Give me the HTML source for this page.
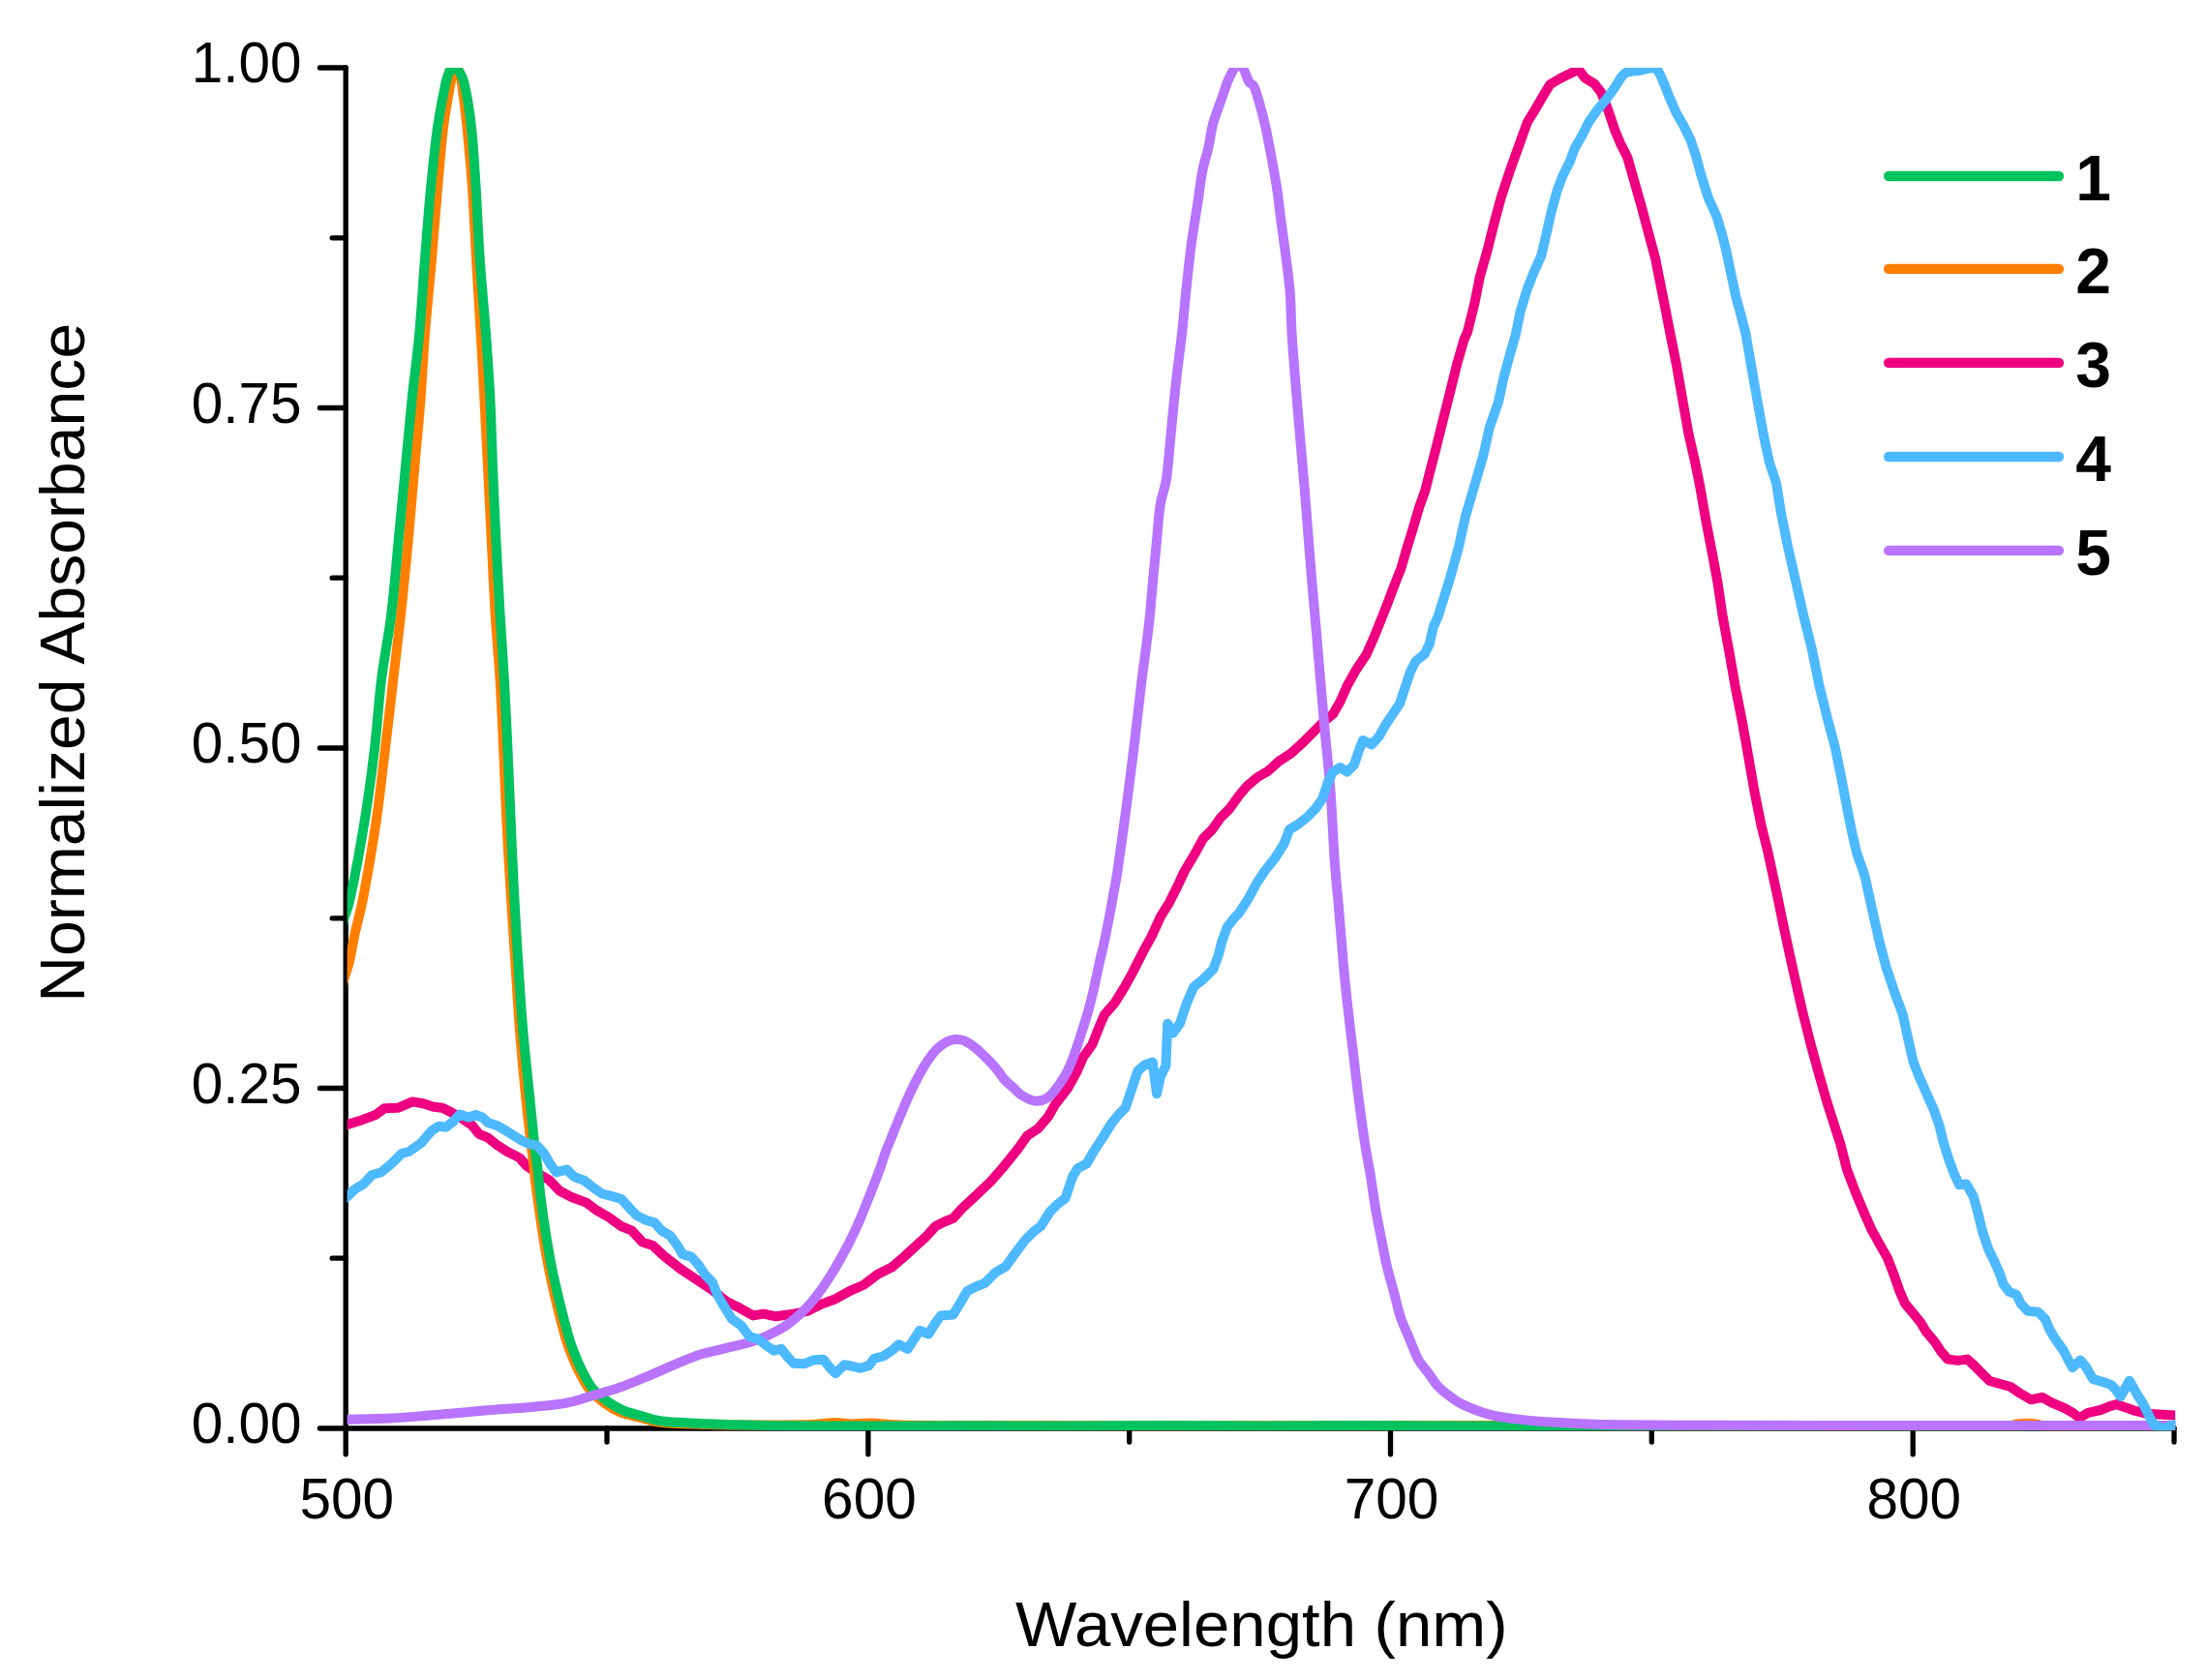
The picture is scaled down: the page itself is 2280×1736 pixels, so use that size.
<!DOCTYPE html>
<html lang="en"><head><meta charset="utf-8"><title>Normalized Absorbance</title>
<style>html,body{margin:0;padding:0;background:#fff}body{width:2280px;height:1736px;overflow:hidden}svg{display:block}text{font-family:"Liberation Sans",sans-serif;fill:#000}</style></head><body>
<svg width="2280" height="1736" viewBox="0 0 2280 1736">
<rect width="2280" height="1736" fill="#fff"/>
<defs><clipPath id="plot"><rect x="358.6" y="69.9" width="1888.6" height="1408.3"/></clipPath></defs>
<g stroke="#000" stroke-width="5.3" stroke-linecap="round" fill="none">
<path d="M357.2 70.0 V1502.8"/>
<path d="M330.4 1476.0 H2246.0"/>
<path d="M343.2 1300.2 H357.2"/>
<path d="M330.4 1124.5 H357.2"/>
<path d="M343.2 948.8 H357.2"/>
<path d="M330.4 773.0 H357.2"/>
<path d="M343.2 597.2 H357.2"/>
<path d="M330.4 421.5 H357.2"/>
<path d="M343.2 245.8 H357.2"/>
<path d="M330.4 70.0 H357.2"/>
<path d="M627.0 1476.0 V1490.0"/>
<path d="M896.9 1476.0 V1502.8"/>
<path d="M1166.7 1476.0 V1490.0"/>
<path d="M1436.5 1476.0 V1502.8"/>
<path d="M1706.3 1476.0 V1490.0"/>
<path d="M1976.2 1476.0 V1502.8"/>
<path d="M2246.0 1476.0 V1490.0"/>
</g>
<g clip-path="url(#plot)" fill="none" stroke-width="10" stroke-linejoin="round" stroke-linecap="butt">
<path stroke="#EE0080" d="M345.0 1166.0 L359.1 1162.0 L373.6 1157.4 L388.1 1152.0 L397.1 1145.3 L411.6 1144.7 L426.1 1138.4 L437.0 1140.2 L447.9 1143.8 L456.9 1144.7 L466.0 1149.3 L476.9 1155.6 L487.7 1162.9 L495.0 1171.9 L504.0 1175.6 L513.1 1182.8 L524.0 1190.0 L536.7 1196.4 L543.9 1204.6 L555.0 1212.0 L567.5 1219.5 L578.4 1230.8 L591.0 1237.2 L605.5 1242.6 L616.4 1250.7 L629.1 1258.0 L641.8 1267.1 L652.7 1271.6 L663.5 1283.4 L674.4 1287.0 L687.1 1298.8 L703.4 1311.5 L719.7 1322.3 L736.0 1333.2 L745.0 1340.5 L750.9 1344.9 L763.6 1351.3 L778.1 1359.4 L788.9 1357.6 L801.6 1360.3 L819.7 1357.6 L834.2 1354.9 L848.7 1347.6 L863.2 1342.2 L877.7 1334.1 L892.2 1327.7 L906.7 1316.8 L921.2 1309.6 L933.9 1298.7 L944.8 1288.7 L955.7 1278.8 L966.6 1267.0 L975.6 1262.5 L984.7 1258.8 L993.7 1248.9 L1008.2 1235.3 L1022.7 1221.7 L1035.4 1207.2 L1043.0 1198.0 L1052.2 1186.4 L1061.2 1173.7 L1072.1 1166.4 L1083.0 1153.7 L1090.2 1141.1 L1102.9 1124.7 L1112.0 1108.4 L1119.2 1092.1 L1128.3 1079.4 L1135.5 1061.3 L1141.0 1048.6 L1151.9 1035.9 L1160.9 1021.4 L1170.0 1005.1 L1180.9 983.4 L1189.9 967.1 L1199.0 947.1 L1208.0 932.6 L1215.3 918.1 L1223.8 900.0 L1234.1 882.7 L1243.1 866.4 L1252.2 857.4 L1261.2 844.7 L1270.3 835.6 L1279.4 822.9 L1288.4 812.1 L1299.3 803.0 L1310.2 796.6 L1321.0 786.7 L1333.7 778.5 L1344.6 768.6 L1355.5 757.7 L1366.4 746.8 L1377.2 737.7 L1384.5 725.1 L1391.7 708.7 L1400.8 692.4 L1411.7 676.1 L1418.9 659.8 L1426.5 641.0 L1433.4 623.6 L1441.0 603.5 L1447.5 587.0 L1453.4 566.6 L1458.5 550.0 L1466.5 523.0 L1472.4 506.7 L1476.8 489.0 L1483.5 463.2 L1490.7 434.2 L1498.0 405.2 L1505.2 376.2 L1512.5 350.9 L1516.0 343.0 L1523.5 312.8 L1528.9 285.6 L1536.2 260.2 L1543.4 231.2 L1550.7 204.1 L1559.7 176.9 L1568.8 151.5 L1577.9 126.1 L1586.9 111.6 L1594.2 98.9 L1601.4 87.2 L1612.3 80.8 L1623.2 75.4 L1630.4 71.5 L1637.7 80.8 L1646.7 86.2 L1654.0 95.3 L1661.2 113.4 L1668.5 135.2 L1673.9 147.9 L1681.2 162.4 L1688.4 187.7 L1695.7 213.1 L1702.9 240.3 L1710.2 267.5 L1715.6 294.7 L1721.0 321.9 L1725.5 345.0 L1731.8 376.2 L1738.1 412.5 L1744.5 448.7 L1750.8 475.9 L1756.3 503.1 L1762.6 539.4 L1768.9 572.0 L1774.4 601.5 L1779.8 638.0 L1786.2 672.5 L1792.5 708.7 L1799.7 745.0 L1806.1 781.2 L1812.4 817.5 L1819.7 853.7 L1826.3 880.0 L1830.6 900.0 L1835.3 921.7 L1843.5 961.6 L1852.6 1003.2 L1861.6 1043.1 L1870.7 1079.4 L1879.7 1112.0 L1887.0 1137.4 L1894.0 1159.5 L1901.2 1181.8 L1908.1 1208.9 L1917.1 1232.5 L1926.2 1254.2 L1933.4 1270.6 L1942.5 1286.9 L1949.7 1299.6 L1956.1 1315.9 L1962.4 1334.0 L1967.9 1346.7 L1976.9 1357.6 L1984.2 1366.6 L1989.6 1375.7 L1998.7 1386.6 L2005.9 1397.4 L2012.3 1404.6 L2022.7 1405.9 L2032.5 1404.6 L2040.0 1411.5 L2047.6 1419.2 L2055.5 1427.0 L2064.5 1429.5 L2077.0 1433.0 L2087.0 1439.8 L2098.0 1446.3 L2109.7 1443.8 L2120.5 1449.9 L2132.5 1454.8 L2141.4 1459.9 L2148.2 1465.2 L2157.3 1459.8 L2170.0 1457.0 L2179.0 1453.4 L2186.8 1451.0 L2195.4 1454.3 L2206.2 1457.9 L2217.1 1460.7 L2229.8 1461.6 L2247.0 1462.5 L2260.0 1462.5"/>
<path stroke="#FF8000" d="M340.0 1075.0 C341.2 1070.0 344.6 1054.8 347.0 1045.0 C349.4 1035.2 351.8 1024.8 354.2 1016.0 C356.6 1007.2 359.1 1001.0 361.2 992.5 C363.2 984.0 364.1 976.4 366.5 965.3 C368.9 954.2 371.8 945.6 375.5 926.0 C379.2 906.4 385.1 872.7 388.8 847.5 C392.5 822.3 394.9 799.2 397.8 775.0 C400.7 750.8 403.4 726.2 406.2 702.5 C408.9 678.8 411.7 657.2 414.3 633.0 C416.9 608.8 419.5 582.2 421.8 557.5 C424.1 532.8 426.0 509.2 428.1 485.0 C430.2 460.8 432.7 435.8 434.5 412.5 C436.3 389.2 437.1 369.2 439.0 345.0 C440.9 320.8 443.8 292.5 446.0 267.5 C448.2 242.5 450.0 217.7 452.0 195.0 C454.0 172.3 455.8 149.8 458.0 131.6 C460.2 113.4 463.7 95.8 465.5 86.0 C467.3 76.2 468.0 76.3 469.0 73.0 C470.0 69.7 470.7 66.0 471.5 66.0 C472.3 66.0 473.1 69.7 474.0 73.0 C474.9 76.3 475.6 76.2 477.0 86.0 C478.4 95.8 480.7 113.4 482.5 131.6 C484.3 149.8 486.4 172.3 488.0 195.0 C489.6 217.7 490.6 242.5 492.0 267.5 C493.4 292.5 495.3 320.8 496.7 345.0 C498.1 369.2 499.2 389.2 500.4 412.5 C501.6 435.8 502.9 460.8 504.1 485.0 C505.3 509.2 506.4 532.2 507.7 557.5 C509.0 582.8 510.3 612.8 511.8 637.0 C513.3 661.2 515.2 679.5 516.6 702.5 C518.0 725.5 519.1 750.8 520.2 775.0 C521.3 799.2 522.1 823.0 523.3 847.5 C524.5 872.0 526.1 897.8 527.6 922.0 C529.1 946.2 530.6 968.7 532.2 992.5 C533.8 1016.3 535.1 1040.8 537.0 1065.0 C538.9 1089.2 541.6 1117.5 543.6 1137.5 C545.6 1157.5 547.4 1171.2 549.0 1185.0 C550.6 1198.8 551.9 1211.2 553.0 1220.0 C554.1 1228.8 554.1 1229.0 555.4 1238.0 C556.6 1247.0 558.6 1262.0 560.5 1274.0 C562.4 1286.0 564.4 1297.8 566.8 1310.0 C569.2 1322.2 572.1 1334.8 575.0 1347.0 C577.9 1359.2 581.8 1374.0 584.4 1383.0 C587.0 1392.0 588.4 1395.0 590.8 1401.0 C593.2 1407.0 595.7 1413.0 598.9 1419.0 C602.1 1425.0 605.3 1431.7 609.8 1437.0 C614.3 1442.3 621.0 1447.3 626.0 1451.0 C631.0 1454.7 634.3 1456.8 640.0 1459.0 C645.7 1461.2 653.3 1462.8 660.0 1464.5 C666.7 1466.2 671.3 1468.3 680.0 1469.5 C688.7 1470.7 700.3 1471.0 712.0 1471.5 C723.7 1472.0 735.3 1472.3 750.0 1472.5 C764.7 1472.7 785.0 1472.6 800.0 1472.5 C815.0 1472.4 829.7 1472.4 840.0 1472.0 C850.3 1471.6 855.3 1470.1 862.0 1470.0 C868.7 1469.9 873.7 1471.4 880.0 1471.5 C886.3 1471.6 891.7 1470.3 900.0 1470.5 C908.3 1470.7 913.3 1472.1 930.0 1472.5 C946.7 1472.9 955.0 1472.8 1000.0 1473.0 C1045.0 1473.2 1116.7 1473.5 1200.0 1473.5 C1283.3 1473.5 1400.0 1473.0 1500.0 1473.0 C1600.0 1473.0 1705.0 1473.4 1800.0 1473.5 C1895.0 1473.6 2023.0 1473.8 2070.0 1473.5 C2117.0 1473.2 2077.8 1472.2 2082.0 1471.8 C2086.2 1471.3 2091.0 1470.8 2095.0 1470.8 C2099.0 1470.8 2102.5 1471.5 2106.0 1472.0 C2109.5 1472.5 2100.3 1473.2 2116.0 1473.5 C2131.7 1473.8 2176.0 1473.5 2200.0 1473.5 C2224.0 1473.5 2250.0 1473.5 2260.0 1473.5"/>
<path stroke="#00C25F" d="M343.0 1012.0 C343.8 1007.5 346.1 995.0 348.0 985.0 C349.9 975.0 352.1 961.8 354.5 952.0 C356.9 942.2 358.6 943.4 362.3 926.0 C366.0 908.6 372.7 872.7 376.8 847.5 C380.9 822.3 383.9 799.2 386.8 775.0 C389.7 750.8 391.1 725.8 394.0 702.5 C396.9 679.2 401.2 659.2 404.2 635.0 C407.2 610.8 409.4 582.5 411.8 557.5 C414.2 532.5 416.4 509.2 418.7 485.0 C421.0 460.8 423.2 435.8 425.6 412.5 C428.0 389.2 431.0 369.2 433.2 345.0 C435.4 320.8 437.0 292.5 439.0 267.5 C441.0 242.5 442.8 217.7 445.0 195.0 C447.2 172.3 449.4 149.7 452.0 131.6 C454.6 113.5 458.2 96.1 460.4 86.2 C462.6 76.3 463.6 75.4 465.0 72.0 C466.4 68.6 467.4 66.0 468.7 66.0 C470.0 66.0 471.2 68.6 473.0 72.0 C474.8 75.4 477.3 76.3 479.6 86.2 C481.9 96.1 485.0 113.5 487.0 131.6 C489.0 149.7 490.2 172.3 491.7 195.0 C493.1 217.7 494.0 242.5 495.7 267.5 C497.4 292.5 500.2 320.8 502.0 345.0 C503.8 369.2 505.2 389.2 506.4 412.5 C507.6 435.8 508.1 460.8 509.1 485.0 C510.1 509.2 511.1 532.5 512.4 557.5 C513.6 582.5 515.2 610.8 516.6 635.0 C518.0 659.2 519.6 679.2 520.9 702.5 C522.2 725.8 523.4 750.8 524.5 775.0 C525.6 799.2 526.5 822.5 527.6 847.5 C528.7 872.5 529.9 900.8 531.2 925.0 C532.5 949.2 533.7 969.2 535.2 992.5 C536.7 1015.8 538.2 1040.8 540.3 1065.0 C542.4 1089.2 545.6 1117.9 547.6 1137.5 C549.6 1157.1 550.8 1170.7 552.1 1182.8 C553.5 1194.9 554.7 1201.1 555.7 1210.0 C556.8 1218.9 557.1 1225.6 558.4 1236.0 C559.7 1246.4 561.6 1260.4 563.5 1272.5 C565.4 1284.6 567.4 1296.6 569.8 1308.7 C572.2 1320.8 575.1 1333.0 578.0 1345.0 C580.9 1357.0 584.8 1371.9 587.4 1381.0 C590.0 1390.1 591.4 1393.3 593.8 1399.4 C596.2 1405.5 598.7 1411.5 601.9 1417.5 C605.1 1423.5 608.3 1430.3 612.8 1435.6 C617.3 1440.9 624.0 1445.6 629.1 1449.2 C634.2 1452.8 638.2 1455.1 643.6 1457.4 C649.0 1459.7 655.4 1461.0 661.7 1462.8 C668.1 1464.6 673.2 1466.9 681.7 1468.2 C690.2 1469.5 701.1 1469.8 712.5 1470.4 C723.9 1471.0 735.4 1471.4 750.0 1471.9 C764.6 1472.4 775.0 1473.0 800.0 1473.3 C825.0 1473.6 866.7 1473.6 900.0 1473.6 C933.3 1473.6 966.7 1473.2 1000.0 1473.2 C1033.3 1473.2 1066.7 1473.6 1100.0 1473.6 C1133.3 1473.6 1166.7 1473.0 1200.0 1473.0 C1233.3 1473.0 1266.7 1473.5 1300.0 1473.5 C1333.3 1473.5 1366.7 1473.0 1400.0 1473.0 C1433.3 1473.0 1466.7 1473.3 1500.0 1473.4 C1533.3 1473.5 1566.7 1473.6 1600.0 1473.6 C1633.3 1473.6 1666.7 1473.2 1700.0 1473.2 C1733.3 1473.2 1766.7 1473.6 1800.0 1473.6 C1833.3 1473.6 1866.7 1473.2 1900.0 1473.2 C1933.3 1473.2 1966.7 1473.6 2000.0 1473.6 C2033.3 1473.6 2066.7 1473.2 2100.0 1473.2 C2133.3 1473.2 2173.3 1473.5 2200.0 1473.5 C2226.7 1473.5 2250.0 1473.5 2260.0 1473.5"/>
<path stroke="#B873FF" d="M340.0 1467.3 C343.2 1467.2 348.4 1467.1 359.1 1466.8 C369.8 1466.5 390.8 1466.2 404.4 1465.5 C418.0 1464.8 428.5 1463.8 440.6 1462.8 C452.7 1461.8 464.8 1460.8 476.9 1459.7 C489.0 1458.7 501.0 1457.5 513.1 1456.5 C525.2 1455.5 537.3 1455.2 549.4 1454.0 C561.5 1452.8 575.0 1451.6 585.6 1449.6 C596.2 1447.6 603.7 1444.6 612.8 1442.0 C621.9 1439.4 630.9 1437.0 640.0 1433.8 C649.1 1430.6 658.1 1426.7 667.2 1422.9 C676.3 1419.1 685.4 1415.0 694.4 1411.2 C703.4 1407.4 713.1 1403.1 721.5 1400.3 C729.9 1397.5 738.9 1395.8 745.0 1394.3 C751.1 1392.8 752.9 1392.4 758.1 1391.1 C763.3 1389.8 770.2 1388.5 776.2 1386.6 C782.2 1384.6 788.4 1382.3 794.4 1379.4 C800.4 1376.5 806.5 1373.6 812.5 1369.4 C818.5 1365.2 825.5 1359.0 830.6 1354.0 C835.7 1349.0 839.1 1344.9 843.3 1339.5 C847.5 1334.1 852.1 1327.5 856.0 1321.4 C859.9 1315.4 863.3 1309.6 866.9 1303.2 C870.5 1296.8 874.1 1290.5 877.7 1283.3 C881.3 1276.0 885.0 1268.2 888.6 1259.7 C892.2 1251.2 896.2 1241.0 899.5 1232.6 C902.8 1224.1 906.0 1216.1 908.6 1209.0 C911.2 1201.9 913.1 1195.1 915.0 1190.0 C916.9 1184.9 917.4 1184.2 919.7 1178.5 C922.0 1172.8 925.5 1163.6 928.9 1155.6 C932.2 1147.5 936.5 1137.5 939.8 1130.2 C943.1 1123.0 946.2 1117.2 948.9 1112.1 C951.6 1107.0 953.1 1103.9 956.1 1099.4 C959.1 1094.9 963.4 1088.7 967.0 1084.9 C970.6 1081.1 974.6 1078.5 977.9 1076.7 C981.2 1074.9 983.9 1074.2 986.9 1074.0 C989.9 1073.8 992.7 1074.1 996.0 1075.4 C999.3 1076.8 1003.0 1079.0 1006.9 1082.1 C1010.8 1085.2 1015.7 1090.0 1019.6 1093.9 C1023.5 1097.8 1027.4 1102.1 1030.4 1105.7 C1033.4 1109.3 1035.0 1112.7 1037.7 1115.7 C1040.4 1118.7 1043.7 1121.1 1046.7 1123.8 C1049.7 1126.5 1051.9 1129.7 1055.8 1132.0 C1059.7 1134.3 1065.8 1137.5 1070.3 1137.8 C1074.8 1138.1 1079.1 1136.6 1083.0 1133.8 C1086.9 1131.0 1090.6 1125.6 1093.9 1121.1 C1097.2 1116.6 1100.2 1112.0 1102.9 1106.6 C1105.6 1101.2 1107.8 1095.2 1110.2 1088.5 C1112.6 1081.8 1115.0 1074.2 1117.4 1066.7 C1119.8 1059.2 1122.6 1050.8 1124.7 1043.2 C1126.8 1035.7 1128.3 1029.2 1130.1 1021.4 C1131.9 1013.5 1133.7 1004.2 1135.5 996.1 C1137.3 988.0 1139.2 981.0 1141.0 972.5 C1142.8 964.0 1144.7 954.1 1146.4 945.3 C1148.1 936.5 1149.7 927.4 1151.0 919.9 C1152.3 912.4 1152.4 914.0 1154.5 900.0 C1156.6 886.0 1160.6 856.9 1163.4 835.6 C1166.2 814.3 1168.9 793.4 1171.5 772.2 C1174.1 751.1 1176.2 729.9 1178.8 708.7 C1181.4 687.6 1184.8 664.2 1186.9 645.3 C1189.0 626.3 1190.1 609.6 1191.5 595.0 C1192.9 580.4 1193.9 569.8 1195.1 557.5 C1196.3 545.2 1197.0 531.8 1198.7 521.2 C1200.4 510.6 1203.3 506.2 1205.1 494.1 C1206.9 482.0 1207.9 465.3 1209.6 448.7 C1211.2 432.1 1213.1 411.7 1215.0 394.4 C1216.9 377.1 1219.3 360.1 1221.0 345.0 C1222.7 329.9 1223.4 318.7 1225.0 303.7 C1226.6 288.7 1228.4 269.9 1230.4 254.8 C1232.4 239.7 1234.8 226.1 1236.8 213.1 C1238.8 200.1 1240.2 187.2 1242.2 176.9 C1244.2 166.6 1246.8 159.7 1248.6 151.5 C1250.4 143.3 1251.0 135.8 1253.1 127.9 C1255.2 120.1 1258.6 111.8 1261.2 104.4 C1263.8 97.0 1266.2 89.1 1268.5 83.5 C1270.8 77.9 1273.0 74.2 1274.8 71.0 C1276.6 67.8 1277.7 63.9 1279.4 64.0 C1281.1 64.1 1283.0 68.1 1284.8 71.5 C1286.6 74.9 1288.4 81.3 1290.2 84.4 C1292.0 87.5 1293.7 85.7 1295.7 89.9 C1297.7 94.1 1300.0 102.8 1302.0 109.8 C1304.0 116.8 1305.5 122.5 1307.5 131.6 C1309.5 140.7 1311.8 153.6 1313.8 164.2 C1315.8 174.8 1317.5 183.8 1319.2 195.0 C1320.9 206.2 1322.1 218.5 1323.8 231.2 C1325.5 243.9 1327.7 259.0 1329.2 271.1 C1330.7 283.2 1331.9 291.4 1332.8 303.7 C1333.7 316.0 1333.7 329.9 1334.6 345.0 C1335.5 360.1 1336.9 377.1 1338.3 394.4 C1339.7 411.7 1341.4 432.1 1342.8 448.7 C1344.2 465.3 1345.5 479.0 1346.8 494.1 C1348.1 509.2 1349.1 522.4 1350.4 539.4 C1351.8 556.4 1353.4 578.1 1354.9 596.0 C1356.4 613.9 1357.8 628.2 1359.4 647.0 C1361.0 665.8 1362.9 689.4 1364.6 708.7 C1366.3 728.1 1367.8 745.0 1369.4 763.1 C1371.1 781.2 1372.9 796.4 1374.5 817.5 C1376.1 838.6 1377.3 869.0 1378.8 890.0 C1380.3 911.0 1382.0 925.4 1383.5 943.4 C1385.0 961.4 1386.5 981.2 1388.0 997.8 C1389.5 1014.4 1390.9 1028.0 1392.6 1043.1 C1394.3 1058.2 1396.2 1073.3 1398.0 1088.4 C1399.8 1103.5 1401.4 1118.4 1403.4 1133.7 C1405.4 1149.0 1407.7 1166.2 1409.8 1180.0 C1411.9 1193.8 1414.3 1205.0 1416.1 1216.2 C1417.9 1227.4 1418.9 1236.5 1420.7 1247.1 C1422.5 1257.7 1425.0 1269.7 1427.0 1279.7 C1429.0 1289.7 1430.3 1297.8 1432.4 1306.9 C1434.5 1316.0 1437.3 1325.0 1439.7 1334.1 C1442.1 1343.1 1444.2 1353.0 1446.9 1361.2 C1449.6 1369.4 1453.0 1375.8 1456.0 1383.0 C1459.0 1390.2 1461.8 1398.7 1465.1 1404.7 C1468.4 1410.7 1472.6 1414.7 1475.9 1419.2 C1479.2 1423.7 1481.4 1428.0 1485.0 1431.9 C1488.6 1435.8 1493.2 1439.5 1497.7 1442.8 C1502.2 1446.1 1505.2 1448.7 1512.2 1451.9 C1519.2 1455.1 1530.3 1459.4 1539.4 1461.8 C1548.5 1464.2 1557.5 1465.2 1566.6 1466.4 C1575.6 1467.6 1580.1 1468.2 1593.7 1469.1 C1607.3 1470.0 1623.7 1471.2 1648.1 1471.8 C1672.5 1472.4 1698.0 1472.5 1740.0 1472.7 C1782.0 1472.9 1840.0 1473.0 1900.0 1473.0 C1960.0 1473.0 2040.0 1473.0 2100.0 1473.0 C2160.0 1473.0 2233.3 1473.0 2260.0 1473.0"/>
<path stroke="#4DB9FF" d="M345.0 1247.0 L359.1 1236.2 L366.3 1229.0 L375.4 1223.6 L384.4 1214.0 L393.5 1211.5 L404.4 1202.5 L415.2 1191.9 L422.5 1190.0 L435.2 1181.0 L446.1 1168.3 L453.3 1163.8 L460.6 1164.7 L467.8 1159.2 L475.1 1151.6 L484.1 1154.7 L491.4 1152.0 L498.6 1154.7 L504.1 1160.1 L513.1 1162.9 L524.0 1169.2 L538.5 1178.3 L545.7 1181.9 L554.8 1183.7 L562.1 1191.9 L568.5 1203.0 L574.7 1211.4 L585.6 1208.6 L592.9 1215.8 L603.7 1220.0 L612.8 1227.2 L621.9 1233.5 L632.7 1236.2 L641.8 1239.0 L650.9 1248.9 L658.1 1256.2 L667.2 1260.7 L676.2 1263.4 L683.5 1271.6 L692.5 1277.0 L699.8 1287.0 L705.2 1296.1 L714.3 1298.8 L721.5 1306.9 L728.8 1317.8 L736.0 1325.1 L741.0 1337.7 L747.2 1348.6 L756.3 1363.1 L765.4 1369.4 L774.4 1381.2 L783.5 1383.9 L792.6 1391.1 L799.8 1395.7 L807.1 1393.9 L814.3 1402.9 L819.7 1408.7 L830.6 1409.3 L839.7 1405.6 L850.6 1404.7 L857.8 1413.8 L863.2 1419.2 L872.3 1410.2 L881.4 1412.0 L888.6 1413.8 L897.7 1411.1 L903.1 1403.8 L912.2 1401.5 L921.2 1395.7 L928.5 1389.3 L937.6 1393.9 L944.8 1383.0 L950.2 1374.8 L959.3 1378.5 L966.6 1366.7 L972.0 1359.4 L984.7 1358.5 L991.9 1346.7 L999.2 1334.1 L1008.2 1329.5 L1017.3 1325.9 L1028.2 1315.0 L1039.1 1308.7 L1048.1 1296.0 L1059.0 1281.5 L1068.0 1272.4 L1075.3 1267.0 L1084.4 1252.5 L1091.6 1245.2 L1100.7 1238.0 L1107.9 1216.2 L1113.4 1207.2 L1122.6 1202.5 L1130.0 1189.5 L1139.2 1175.5 L1148.2 1161.0 L1155.5 1151.9 L1162.7 1144.7 L1170.0 1122.9 L1175.4 1106.6 L1182.7 1100.3 L1190.8 1097.6 L1195.0 1130.2 L1199.0 1112.1 L1204.4 1101.2 L1206.2 1057.7 L1211.7 1067.6 L1218.9 1057.7 L1226.2 1035.9 L1233.4 1019.6 L1242.5 1012.4 L1253.4 1001.5 L1258.8 987.0 L1262.4 972.5 L1267.8 958.0 L1273.3 950.7 L1280.0 943.5 L1290.0 928.0 L1298.0 913.0 L1306.6 900.0 L1317.4 886.4 L1326.5 871.9 L1331.9 857.4 L1341.0 851.9 L1350.1 844.7 L1359.1 835.6 L1366.4 824.7 L1371.8 808.4 L1377.2 797.5 L1384.5 793.0 L1391.7 797.5 L1399.0 790.3 L1404.4 774.0 L1408.1 764.9 L1417.1 769.5 L1424.4 761.3 L1431.6 748.6 L1438.9 737.7 L1446.1 726.9 L1451.5 710.6 L1457.0 694.2 L1462.4 683.4 L1471.5 676.1 L1476.9 665.2 L1481.0 647.0 L1485.3 638.0 L1498.0 597.4 L1507.1 564.7 L1514.3 532.1 L1523.4 501.3 L1532.4 470.5 L1538.8 441.5 L1547.8 416.1 L1553.3 390.7 L1559.6 367.2 L1565.5 347.0 L1570.6 321.9 L1577.9 298.3 L1585.1 280.2 L1592.4 263.9 L1597.8 240.3 L1603.2 216.7 L1608.7 196.8 L1614.1 182.3 L1621.4 167.8 L1626.8 153.3 L1634.1 140.6 L1641.3 126.1 L1650.4 113.4 L1659.4 102.6 L1668.5 89.9 L1675.7 78.5 L1680.0 74.8 L1686.0 73.6 L1694.0 73.0 L1704.7 70.5 L1711.3 70.5 L1715.0 77.0 L1719.0 86.2 L1724.7 100.7 L1731.9 117.1 L1739.2 129.7 L1746.4 144.2 L1751.9 160.6 L1757.3 180.5 L1764.6 204.1 L1773.6 224.0 L1779.0 242.1 L1783.6 260.2 L1788.1 282.0 L1793.5 307.4 L1799.0 327.3 L1803.5 345.0 L1808.8 376.2 L1815.2 412.5 L1822.4 452.4 L1827.9 477.7 L1835.1 499.5 L1840.0 530.3 L1847.0 565.0 L1855.0 600.0 L1863.2 636.2 L1872.2 672.5 L1879.5 708.7 L1887.6 741.4 L1895.8 772.2 L1902.1 803.0 L1907.6 832.0 L1913.0 859.2 L1918.2 881.5 L1924.8 900.0 L1926.9 907.2 L1934.1 939.8 L1941.4 972.4 L1948.6 999.6 L1957.7 1026.8 L1965.8 1048.6 L1971.3 1073.9 L1976.7 1097.5 L1983.1 1113.8 L1990.3 1130.1 L1997.6 1146.4 L2003.5 1163.0 L2007.6 1180.0 L2013.2 1198.1 L2018.6 1212.6 L2024.1 1224.3 L2031.3 1223.4 L2038.6 1236.1 L2043.1 1252.4 L2048.5 1274.2 L2054.0 1290.5 L2060.3 1303.2 L2066.6 1317.7 L2069.4 1326.7 L2075.7 1334.9 L2083.0 1337.6 L2087.5 1346.7 L2094.7 1354.8 L2105.6 1355.7 L2112.9 1363.0 L2117.4 1373.9 L2122.5 1382.5 L2132.0 1396.0 L2137.3 1406.5 L2141.0 1413.2 L2149.1 1405.5 L2155.0 1412.5 L2162.2 1425.0 L2171.0 1427.6 L2181.0 1431.0 L2185.4 1435.5 L2190.8 1443.0 L2199.9 1426.8 L2207.5 1440.3 L2214.5 1451.5 L2220.0 1463.0 L2225.3 1472.4 L2235.2 1476.5 L2244.3 1472.5 L2260.0 1470.0"/>
</g>
<g font-size="58.5">
<text x="311.5" y="1491.3" text-anchor="end">0.00</text>
<text x="311.5" y="1139.8" text-anchor="end">0.25</text>
<text x="311.5" y="788.3" text-anchor="end">0.50</text>
<text x="311.5" y="436.8" text-anchor="end">0.75</text>
<text x="311.5" y="85.3" text-anchor="end">1.00</text>
<text x="358.2" y="1569" text-anchor="middle">500</text>
<text x="897.9" y="1569" text-anchor="middle">600</text>
<text x="1437.5" y="1569" text-anchor="middle">700</text>
<text x="1977.2" y="1569" text-anchor="middle">800</text>
</g>
<text x="1303.3" y="1701.4" font-size="65" text-anchor="middle" textLength="508.5" lengthAdjust="spacingAndGlyphs">Wavelength (nm)</text>
<text transform="translate(87 684.8) rotate(-90)" font-size="65" text-anchor="middle" textLength="702" lengthAdjust="spacingAndGlyphs">Normalized Absorbance</text>
<g stroke-width="10.3" stroke-linecap="round">
<path stroke="#00C25F" d="M1951.1 182.0 H2127"/>
<path stroke="#FF8000" d="M1951.1 277.9 H2127"/>
<path stroke="#EE0080" d="M1951.1 374.9 H2127"/>
<path stroke="#4DB9FF" d="M1951.1 472.0 H2127"/>
<path stroke="#B873FF" d="M1951.1 568.9 H2127"/>
</g>
<g font-size="66" font-weight="bold" text-anchor="middle">
<text x="2162.5" y="207.4">1</text>
<text x="2162.5" y="303.3">2</text>
<text x="2162.5" y="400.3">3</text>
<text x="2162.5" y="497.4">4</text>
<text x="2162.5" y="594.3">5</text>
</g>
</svg></body></html>
